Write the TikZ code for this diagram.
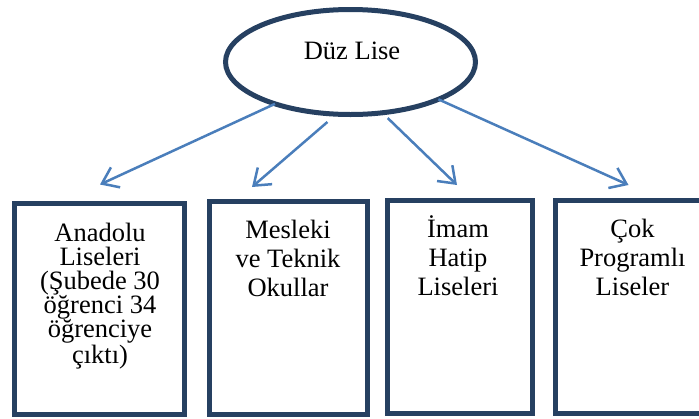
\documentclass[tikz,border=0pt]{standalone}
\usepackage{fontspec}
\setmainfont{Liberation Serif}
\usetikzlibrary{shapes.geometric,arrows.meta}
\definecolor{navy}{RGB}{38,64,97}
\definecolor{arrblue}{RGB}{74,126,187}
\begin{document}
\begin{tikzpicture}[x=1pt,y=-1pt,
  frame/.style={draw=navy,line width=5pt,outer sep=0pt,inner sep=0pt,fill=white},
  conn/.style={draw=arrblue,line width=2.5pt,-{Straight Barb[length=15pt,width=22pt]}},
  lbl/.style={font=\fontsize{26.5}{29.3}\selectfont,anchor=base,text width=170pt,align=flush center,inner sep=0pt}
]
\clip (0,0) rectangle (699,418);
% top ellipse
\node[frame,ellipse,minimum width=250pt,minimum height=105pt] (ell) at (350.5,62) {};
\node[lbl,text width=200pt] (lab0) at (352,59.3) {Düz Lise};
% boxes
\node[frame,rectangle,minimum width=170pt,minimum height=211pt] (b1) at (99.5,309) {};
\node[frame,rectangle,minimum width=158pt,minimum height=213pt] (b2) at (288.5,308) {};
\node[frame,rectangle,minimum width=145pt,minimum height=213pt] (b3) at (460,307) {};
\node[frame,rectangle,minimum width=154pt,minimum height=213pt] (b4) at (632.5,307) {};
% labels
\node[lbl,font=\fontsize{26.5}{23.8}\selectfont] (lab1) at (100,241.7) {Anadolu\\Liseleri\\(Şubede 30\\öğrenci 34\\öğrenciye\\çıktı)};
\node[lbl] (lab2) at (288,238.3) {Mesleki\\ve Teknik\\Okullar};
\node[lbl] (lab3) at (458,237) {İmam\\Hatip\\Liseleri};
\node[lbl] (lab4) at (632.5,237) {Çok\\Programlı\\Liseler};
% arrow end points
\coordinate (e1) at (100,184.5);
\coordinate (e2) at (252,187);
\coordinate (e3) at (457,185);
\coordinate (e4) at (628.5,185);
% connectors
\draw[conn] (ell.209) -- (e1);
\draw[conn,shorten <=12pt] (ell.255) -- (e2);
\draw[conn,shorten <=7.6pt] (ell.-58) -- (e3);
\draw[conn] (ell.-23.3) -- (e4);
\end{tikzpicture}
\end{document}
